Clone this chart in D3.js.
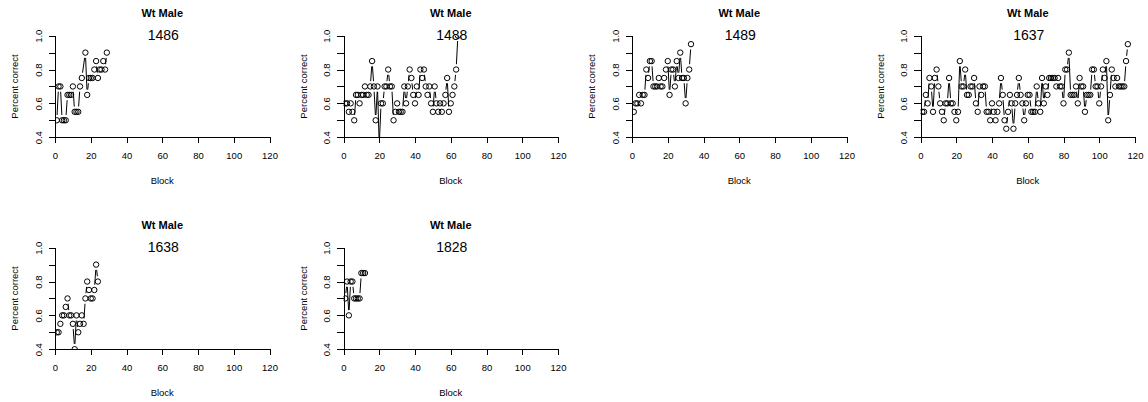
<!DOCTYPE html>
<html><head><meta charset="utf-8">
<script src="https://cdn.jsdelivr.net/npm/d3@7"></script>
<style>
body{margin:0;background:#fff}
svg{display:block}
text{font-family:"Liberation Sans",Arial,Helvetica,sans-serif;fill:#000}
</style>
</head><body>
<svg id="c" width="1148" height="402"></svg>
<script>
// ---------- data ----------
const mainTitle = "Wt Male";
const xTitle = "Block";
const yTitle = "Percent correct";
const animalIds = ["1486", "1488", "1489", "1637", "1638", "1828"];

const block1486 = [1,2,3,4,5,6,7,8,9,10,11,12,13,14,15,17,18,19,20,21,22,23,24,25,26,27,28,29];
const pct1486   = [.50,.70,.70,.50,.50,.50,.65,.65,.65,.70,.55,.55,.55,.70,.75,.90,.65,.75,.75,.75,.80,.85,.75,.80,.80,.85,.80,.90];

const block1488 = d3.range(1, 65);
const pct1488   = [.60,.60,.55,.60,.55,.50,.65,.65,.60,.65,.65,.70,.65,.65,.70,.85,.70,.50,.70,.35,
                   .60,.60,.70,.70,.80,.70,.70,.50,.55,.60,.55,.55,.55,.70,.60,.70,.80,.75,.65,.60,
                   .70,.65,.80,.75,.80,.70,.65,.70,.60,.55,.70,.60,.55,.60,.55,.60,.65,.75,.55,.60,
                   .65,.70,.80,1.0];

const block1489 = d3.range(1, 34);
const pct1489   = [.55,.60,.60,.65,.60,.65,.65,.80,.75,.85,.85,.70,.70,.70,.75,.70,.70,.75,.80,.85,
                   .65,.80,.80,.70,.85,.75,.90,.75,.75,.60,.75,.80,.95];

const block1637 = d3.range(1, 117);
const pct1637   = [.55,.55,.65,.60,.75,.70,.55,.75,.80,.70,.60,.55,.50,.60,.60,.75,.60,.60,.55,.50,
                   .55,.85,.70,.70,.80,.65,.65,.70,.70,.75,.60,.55,.70,.65,.70,.70,.55,.55,.50,.60,
                   .55,.50,.55,.60,.75,.65,.50,.45,.55,.65,.60,.45,.60,.65,.75,.65,.60,.50,.60,.65,
                   .65,.55,.55,.55,.70,.60,.55,.75,.60,.70,.65,.75,.75,.75,.75,.70,.75,.70,.70,.60,
                   .80,.80,.90,.65,.65,.65,.70,.60,.75,.70,.70,.55,.65,.65,.65,.80,.80,.70,.70,.60,
                   .70,.80,.75,.85,.50,.65,.80,.75,.70,.75,.70,.70,.70,.70,.85,.95];

const block1638 = d3.range(1, 25);
const pct1638   = [.50,.50,.55,.60,.60,.65,.70,.60,.60,.55,.40,.60,.50,.55,.60,.55,.70,.80,.75,.70,
                   .70,.75,.90,.80];

const block1828 = d3.range(1, 13);
const pct1828   = [.70,.80,.60,.80,.80,.70,.70,.70,.70,.85,.85,.85];

const xTicks = [0, 20, 40, 60, 80, 100, 120];
const yTicks = [0.4, 0.5, 0.6, 0.7, 0.8, 0.9, 1.0];
const yLabelled = ["0.4", "0.6", "0.8", "1.0"];

const panelBlocks = [block1486, block1488, block1489, block1637, block1638, block1828];
const panelPcts   = [pct1486, pct1488, pct1489, pct1637, pct1638, pct1828];

// ---------- layout ----------
const colLeft = [55, 343.5, 632, 920.5];
const rowTop  = [35.7, 247.7];
const W = 214.5, H = 101.5;

const svg = d3.select("#c");
svg.append("rect").attr("width", 1148).attr("height", 402).attr("fill", "#fff");

const x = d3.scaleLinear().domain([0, 120]).range([0, W]);
const y = d3.scaleLinear().domain([0.4, 1.0]).range([H, 0]);

const defs = svg.append("defs");
defs.append("clipPath").attr("id", "plotclip")
  .append("rect").attr("x", 0).attr("y", 0).attr("width", W).attr("height", H);

animalIds.forEach((id, i) => {
  const col = i % 4, row = Math.floor(i / 4);
  const g = svg.append("g").attr("transform", `translate(${colLeft[col]},${rowTop[row]})`);

  // x axis
  const gx = g.append("g").attr("transform", `translate(0,${H})`)
    .call(d3.axisBottom(x).tickValues(xTicks).tickSize(6).tickSizeOuter(0));
  gx.select(".domain").attr("stroke", "#000").attr("stroke-width", 1);
  gx.selectAll(".tick line").attr("stroke", "#000");
  gx.selectAll(".tick text").attr("y", 22).attr("dy", 0)
    .style("font-size", "9.5px").attr("fill", "#000");

  // y axis
  const gy = g.append("g")
    .call(d3.axisLeft(y).tickValues(yTicks).tickSize(6.5).tickSizeOuter(0)
      .tickFormat(d => yLabelled.includes(d.toFixed(1)) ? d.toFixed(1) : ""));
  gy.select(".domain").attr("stroke", "#000").attr("stroke-width", 1);
  gy.selectAll(".tick line").attr("stroke", "#000");
  gy.selectAll(".tick text")
    .attr("transform", "rotate(-90)")
    .attr("x", 0).attr("y", -13.3).attr("dy", 0)
    .attr("text-anchor", "middle")
    .style("font-size", "9.5px").attr("fill", "#000");
  g.selectAll(".domain, .tick line").attr("shape-rendering", "crispEdges");

  // titles
  g.append("text").attr("x", W / 2).attr("y", -19)
    .attr("text-anchor", "middle").style("font-size", "11px").style("font-weight", "bold")
    .text(mainTitle);
  g.append("text").attr("x", W / 2 + 1).attr("y", 4.7)
    .attr("text-anchor", "middle").style("font-size", "14px")
    .text(id);
  g.append("text").attr("x", W / 2).attr("y", H + 46.6)
    .attr("text-anchor", "middle").style("font-size", "9.5px")
    .text(xTitle);
  g.append("text")
    .attr("transform", `translate(-36.7,${H / 2}) rotate(-90)`)
    .attr("text-anchor", "middle").style("font-size", "9.5px")
    .text(yTitle);

  // data (type = "b": points and gapped lines)
  const pts = panelBlocks[i].map((b, k) => [x(b), y(panelPcts[i][k])]);
  const data = g.append("g").attr("clip-path", "url(#plotclip)");
  const gap = 5.3;
  const segs = [];
  for (let k = 0; k < pts.length - 1; k++) {
    const [x1, y1] = pts[k], [x2, y2] = pts[k + 1];
    const dx = x2 - x1, dy = y2 - y1, d = Math.hypot(dx, dy);
    if (d > 2 * gap) {
      const ux = dx / d, uy = dy / d;
      segs.push([x1 + ux * gap, y1 + uy * gap, x2 - ux * gap, y2 - uy * gap]);
    }
  }
  data.selectAll("line.seg").data(segs).join("line").attr("class", "seg")
    .attr("x1", s => s[0]).attr("y1", s => s[1]).attr("x2", s => s[2]).attr("y2", s => s[3])
    .attr("stroke", "#000").attr("stroke-width", 1);
  data.selectAll("circle").data(pts).join("circle")
    .attr("cx", p => p[0]).attr("cy", p => p[1]).attr("r", 2.7)
    .attr("fill", "none").attr("stroke", "#000").attr("stroke-width", 1);
});
</script>
</body></html>
